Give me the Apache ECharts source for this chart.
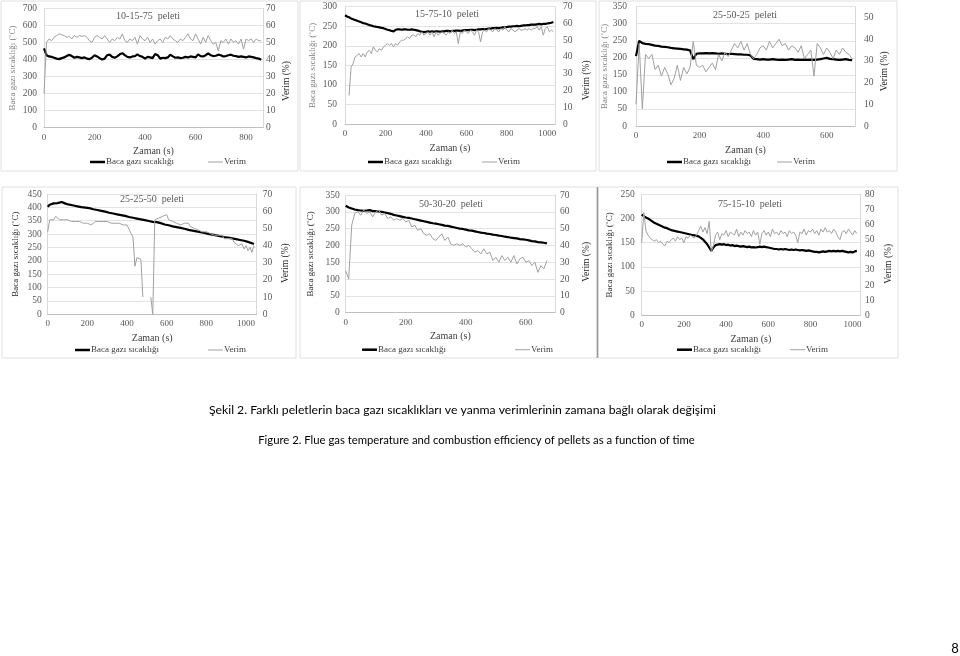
<!DOCTYPE html>
<html><head><meta charset="utf-8">
<script src="https://cdn.jsdelivr.net/npm/echarts/dist/echarts.min.js"></script>
<style>html,body{margin:0;padding:0;background:#fff}#c{width:960px;height:656px}</style>
</head><body><div id="c"></div>
<script>
// ---------------- DATA ----------------
const SAMPLE_STEP_S = 10; // seconds between samples (time = index * step)
const panelTitles = ['10-15-75  peleti','15-75-10  peleti','25-50-25  peleti','25-25-50  peleti','50-30-20  peleti','75-15-10  peleti'];
const tempName = 'Baca gazı sıcaklığı';
const verimName = 'Verim';
const xAxisName = 'Zaman (s)';
const leftAxisName = 'Baca gazı sıcaklığı (˚C)';
const rightAxisName = 'Verim (%)';
const captionTr = 'Şekil 2. Farklı peletlerin baca gazı sıcaklıkları ve yanma verimlerinin zamana bağlı olarak değişimi';
const captionEn = 'Figure 2. Flue gas temperature and combustion efficiency of pellets as a function of time';
const pageNumber = '8';

// axis ranges [max, interval]
const xAxisMax   = [867, 1038, 689, 1054, 697, 1035];
const xAxisStep  = [200, 200, 200, 200, 200, 200];
const tempAxisMax  = [700, 300, 350, 450, 350, 250];
const tempAxisStep = [100, 50, 50, 50, 50, 50];
const verimAxisMax  = [70, 70, 55, 70, 70, 80];
const verimAxisStep = [10, 10, 10, 10, 10, 10];

// Panel 1: 10-15-75
const temp1 = [465,425,418,415,410,405,402,408,412,420,
  428,420,410,415,412,408,412,405,402,410,
  425,418,408,400,405,425,428,415,410,418,
  430,437,425,415,412,418,420,430,420,415,
  405,415,412,408,432,425,405,410,408,412,
  428,418,410,412,408,410,415,412,418,415,
  412,430,420,418,425,435,425,420,422,428,
  425,418,420,425,428,422,420,415,418,415,
  412,418,415,412,408,405,398];
const verim1 = [20,50,52,51,53,54,55,54.5,54,53,
  53.5,52,54,53,54,53.5,54,53,51,50,
  53,54,53,52,54,52,50,52,51,53,
  52,55,51,50,52,51,53,49,54,52,
  51,53,50,52,49,51,52,50,53,52,
  54,52,51,50,52,51,53,55,52,51,
  55,52,49,53,50,54,51,49,50,45,
  51,50,52,49,52,50,51,49,52,46,
  52,51,52,50,52,51,51];

// Panel 2: 15-75-10
const temp2 = [278,275,273,270,268,266,264,262,260,258,
  257,255,253,252,250,249,248,247,246,245,
  243,241,240,238,237,241,242,242,241,242,
  242,241,241,242,241,240,239,237,236,235,
  236,237,236,237,236,237,237,236,237,237,
  238,238,237,238,238,239,239,238,239,240,
  240,240,241,241,240,241,242,242,243,242,
  243,244,244,245,245,246,245,246,247,247,
  248,249,249,250,250,251,250,251,252,252,
  253,253,254,254,254,255,256,255,256,256,
  257,258,259,261];
const verim2 = [null,null,17,34,36,40,41,42,40,42,
  40,43,44,42,46,44,43,45,44,46,
  47,48,47,48,46,48,47,49,50,50,
  51,52,51,53,53,52,54,53,55,53,
  54,55,53,55,52,55,53,54,55,54,
  53,55,54,56,54,55,48,55,54,56,
  55,54,56,55,53,56,55,49,55,56,
  55,57,56,55,57,56,55,57,56,58,
  56,55,57,56,55,56,57,56,56,57,
  56,57,56,57,57,58,56,58,53,57,
  58,55,56,55];

// Panel 3: 25-50-25
const temp3 = [205,250,243,241,240,238,236,235,233,232,
  231,229,228,227,226,225,224,222,196,212,
  213,213,214,213,214,213,212,213,212,211,
  212,211,210,210,209,209,207,197,196,195,
  196,195,195,196,195,194,195,194,195,196,
  194,195,194,195,194,195,194,195,196,198,
  200,197,196,195,194,195,196,194,193];
const verim3 = [10,38,8,33,31,33,26,28,23,27,
  24,19,22,28,21,27,24,27,39,28,
  27,28,25,27,29,26,33,30,34,32,
  35,38,36,39,35,38,33,31,33,36,
  37,35,39,36,38,40,37,38,35,37,
  36,34,37,31,33,35,23,38,36,33,
  36,34,31,35,33,36,34,33,31];

// Panel 4: 25-25-50
const temp4 = [402,410,412,415,413,416,418,420,417,414,
  412,410,409,407,405,404,403,401,400,399,
  398,397,395,393,392,390,388,387,385,384,
  382,380,379,377,376,374,372,371,369,368,
  366,364,363,361,360,358,356,355,353,352,
  350,349,347,346,352,345,342,341,338,336,
  334,333,331,329,328,326,325,323,321,320,
  318,316,315,313,312,310,308,307,305,304,
  302,301,299,298,296,295,294,292,291,289,
  288,287,285,284,282,281,280,278,277,275,
  274,271,268,266,263];
const verim4 = [48,55,56,55,57,56,55,56,55,54,
  55,54,54,53,54,53,54,53,53,52,
  53,53,52,53,54,53,54,53,54,53,
  54,53,53,52,53,52,53,52,52,53,
  52,51,47,45,28,33,33,32,10,null,
  null,null,10,0,55,54,56,55,57,56,
  58,55,56,54,55,53,54,52,53,53,
  52,53,51,52,50,51,49,50,48,49,
  48,49,47,48,46,47,46,45,46,44,
  45,44,43,44,42,43,40,39,41,38,
  40,37,39,36,40];

// Panel 5: 50-30-20
const temp5 = [318,313,310,307,305,304,303,304,305,302,
  302,301,300,298,296,294,291,289,287,285,
  283,282,280,278,276,274,272,270,268,266,
  265,263,261,259,258,256,254,252,250,249,
  247,245,244,242,240,238,237,235,234,232,
  231,229,228,226,225,223,222,221,219,218,
  217,215,213,212,210,209,208,206];
const verim5 = [25,20,52,59,60,58,61,59,60,57,
  60,61,58,59,56,57,55,56,55,56,
  54,55,51,52,49,50,47,46,47,44,
  43,45,47,43,45,41,40,41,40,41,
  39,40,38,36,37,35,38,35,36,31,
  33,30,34,31,33,30,34,29,32,33,
  30,31,28,30,24,28,26,31];

// Panel 6: 75-15-10
const temp6 = [208,205,202,200,197,194,191,189,187,185,
  183,181,180,178,176,175,174,173,172,171,
  170,169,168,167,166,165,164,163,160,157,
  152,147,140,133,140,145,146,147,146,147,
  145,146,144,145,143,144,143,142,143,142,
  141,142,140,141,140,141,142,141,142,141,
  140,139,138,137,137,136,137,136,137,136,
  135,136,135,136,135,134,135,134,133,134,
  133,132,131,131,130,131,132,131,132,133,
  132,133,132,133,132,133,132,131,130,131,
  130,132,133];
const verim6 = [48,68,56,53,51,50,49,50,48,49,
  47,46,49,48,50,51,49,52,50,51,
  48,52,51,53,52,51,53,56,59,55,
  58,54,62,42,46,53,55,50,54,53,
  56,52,55,54,53,57,52,55,53,56,
  54,55,52,56,53,55,47,54,56,53,
  55,52,57,54,55,53,56,54,55,52,
  56,54,55,53,48,55,54,57,53,56,
  55,57,54,56,53,57,55,58,55,56,
  54,57,55,52,50,55,56,54,57,55,
  53,56,54];

const tempSeries = [temp1, temp2, temp3, temp4, temp5, temp6];
const verimSeries = [verim1, verim2, verim3, verim4, verim5, verim6];

// ---------------- LAYOUT ----------------
const layout = [
  {grid:[44, 8.3, 219, 119.4], title:[148, 11], leftGap:27, rightGap:18, rightShift:26, lm:7, rm:3, leg:[90, 208, 163], frame:[1,1,297,170]},
  {grid:[345, 6.7, 210, 117.3], title:[447, 9], leftGap:28, rightGap:26, rightShift:30, lm:8, rm:8, leg:[368, 482, 163], frame:[300,1,296,170]},
  {grid:[636, 6.7, 219, 119.3], title:[745, 10], leftGap:19, rightGap:24, rightShift:10, lm:9, rm:9, leg:[667, 777, 163], frame:[599,1,298,170]},
  {grid:[47.7, 194, 209, 120.3], title:[152, 194], leftGap:28, rightGap:24, rightShift:18, lm:6, rm:6, leg:[75, 208, 351], frame:[2,187,294,171]},
  {grid:[345.7, 195, 209.3, 117.7], title:[451, 199.5], leftGap:31, rightGap:26, rightShift:16, lm:6, rm:5, leg:[362, 515, 350.7], frame:[300,187,297,171]},
  {grid:[641.7, 194.3, 218.3, 121], title:[750, 199.5], leftGap:28, rightGap:23, rightShift:18, lm:7, rm:5, leg:[677, 790, 350.7], frame:[598,187,300,171]}
];

const SERIF = '"Liberation Serif","Times New Roman",serif';
const GRAY_TXT = '#595959';
const plainNum = v => String(v);

const grids = [], xAxes = [], yAxes = [], series = [], titles = [], legends = [], graphics = [];

layout.forEach((L, i) => {
  const [gl, gt, gw, gh] = L.grid;
  grids.push({left: gl, top: gt, width: gw, height: gh, containLabel: false});
  xAxes.push({
    type: 'value', gridIndex: i, min: 0, max: xAxisMax[i], interval: xAxisStep[i],
    name: xAxisName, nameLocation: 'middle', nameGap: 19,
    nameTextStyle: {fontFamily: SERIF, fontSize: 10, color: '#404040'},
    axisLine: {show: true, lineStyle: {color: '#bfbfbf', width: 1}},
    axisTick: {show: false},
    splitLine: {show: false},
    axisLabel: {fontFamily: SERIF, fontSize: 9, color: GRAY_TXT, margin: 5, showMaxLabel: false, formatter: plainNum}
  });
  yAxes.push({
    type: 'value', gridIndex: i, position: 'left', min: 0, max: tempAxisMax[i], interval: tempAxisStep[i],
    name: leftAxisName, nameLocation: 'middle', nameRotate: 90, nameGap: L.leftGap,
    nameTextStyle: {fontFamily: SERIF, fontSize: 9, color: i < 3 ? '#7f7f7f' : '#262626'},
    axisLine: {show: true, lineStyle: {color: '#d9d9d9'}},
    axisTick: {show: false},
    splitLine: {show: true, lineStyle: {color: '#e3e3e3', width: 1}},
    axisLabel: {fontFamily: SERIF, fontSize: 9.5, color: GRAY_TXT, margin: L.lm, formatter: plainNum}
  });
  yAxes.push({
    type: 'value', gridIndex: i, position: 'right', min: 0, max: verimAxisMax[i], interval: verimAxisStep[i],
    name: rightAxisName, nameLocation: 'middle', nameRotate: 90, nameGap: L.rightGap,
    nameTextStyle: {fontFamily: SERIF, fontSize: 9.5, color: '#262626', padding: [0, L.rightShift, 0, 0]},
    axisLine: {show: true, lineStyle: {color: '#d9d9d9'}},
    axisTick: {show: false},
    splitLine: {show: false},
    axisLabel: {fontFamily: SERIF, fontSize: 9.5, color: GRAY_TXT, margin: L.rm, formatter: plainNum,
      showMaxLabel: verimAxisMax[i] % verimAxisStep[i] === 0}
  });
  series.push({
    type: 'line', name: tempName, xAxisIndex: i, yAxisIndex: 2 * i, symbol: 'none', showSymbol: false,
    data: tempSeries[i].map((v, k) => [k * SAMPLE_STEP_S, v]),
    lineStyle: {color: '#000', width: 2.2}, itemStyle: {color: '#000'}, z: 3
  });
  series.push({
    type: 'line', name: verimName, xAxisIndex: i, yAxisIndex: 2 * i + 1, symbol: 'none', showSymbol: false,
    connectNulls: false,
    data: verimSeries[i].map((v, k) => [k * SAMPLE_STEP_S, v]),
    lineStyle: {color: '#a0a0a0', width: 1}, itemStyle: {color: '#a0a0a0'}, z: 4
  });
  titles.push({
    text: panelTitles[i], left: L.title[0], top: L.title[1], textAlign: 'center', padding: 0,
    textStyle: {fontFamily: SERIF, fontSize: 10, fontWeight: 'normal', color: GRAY_TXT}
  });
  const txt = {fontFamily: SERIF, fontSize: 9, color: '#404040', padding: [0, 0, 0, -4]};
  legends.push({orient: 'horizontal', left: L.leg[0], top: L.leg[2] - 5.5, itemWidth: 15, itemHeight: 2.5,
    icon: 'rect', padding: 0, selectedMode: false, textStyle: txt, data: [tempName]});
  legends.push({orient: 'horizontal', left: L.leg[1], top: L.leg[2] - 5.5, itemWidth: 15, itemHeight: 1,
    icon: 'rect', padding: 0, selectedMode: false, textStyle: txt, data: [verimName]});
  const [fx, fy, fw, fh] = L.frame;
  graphics.push({type: 'rect', silent: true, z: -1, shape: {x: fx, y: fy, width: fw, height: fh},
    style: {fill: 'none', stroke: '#e0e0e0', lineWidth: 1}});
});

graphics.push({type: 'line', silent: true, shape: {x1: 597.5, y1: 187, x2: 597.5, y2: 358}, style: {stroke: '#9a9a9a', lineWidth: 1.5}});

const CAP_FONT = 'Lato, "Open Sans", sans-serif';
graphics.push({type: 'text', style: {text: captionTr, x: 462.5, y: 410, align: 'center', verticalAlign: 'middle', fontFamily: CAP_FONT, fontSize: 12.2, fill: '#000'}});
graphics.push({type: 'text', style: {text: captionEn, x: 476.5, y: 440, align: 'center', verticalAlign: 'middle', fontFamily: CAP_FONT, fontSize: 11.3, fill: '#000'}});
graphics.push({type: 'text', style: {text: pageNumber, x: 955, y: 649, align: 'center', verticalAlign: 'middle', fontFamily: CAP_FONT, fontSize: 13, fill: '#000'}});

const chart = echarts.init(document.getElementById('c'), null, {renderer: 'canvas'});
chart.setOption({
  animation: false,
  backgroundColor: '#fff',
  title: titles,
  legend: legends,
  grid: grids,
  xAxis: xAxes,
  yAxis: yAxes,
  series: series,
  graphic: graphics
});
</script></body></html>
